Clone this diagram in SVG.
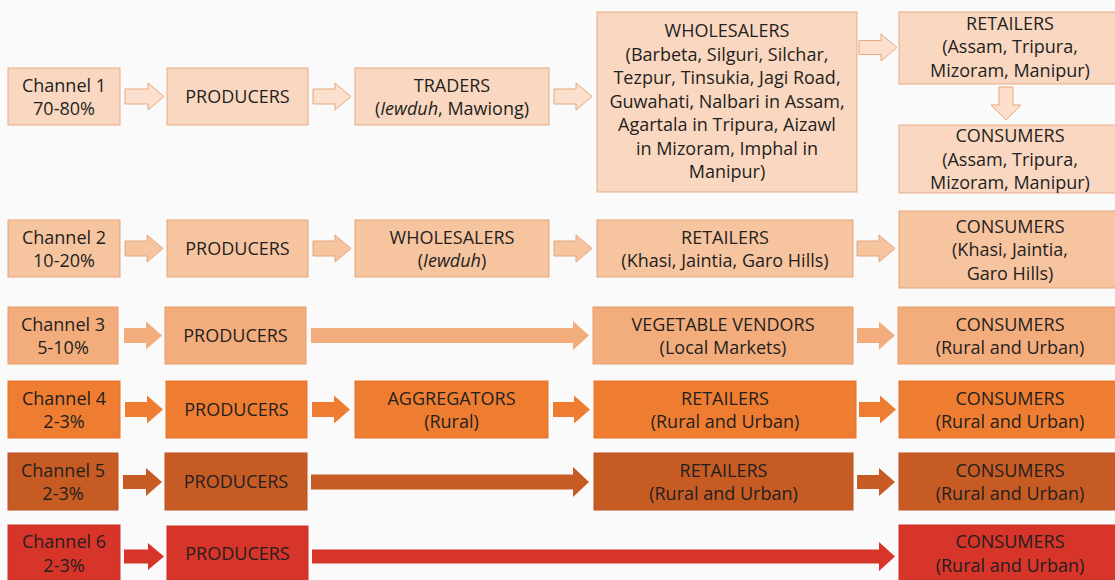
<svg xmlns="http://www.w3.org/2000/svg" width="1115" height="580" viewBox="0 0 1115 580">
<style>
text{font-family:"Open Sans","Liberation Sans",sans-serif;font-size:18px;fill:#231f20;text-anchor:middle}
.it{font-style:italic}
.r1{fill:#fad7c0;stroke:#e6ad86;stroke-width:1}
.r2{fill:#f7c4a0;stroke:#e4a67b;stroke-width:1}
.r3{fill:#f3ad7c;stroke:#e89c68;stroke-width:1}
.r4{fill:#ee7d31;stroke:#e47229;stroke-width:1}
.r5{fill:#c75b24;stroke:#bb5220;stroke-width:1}
.r6{fill:#d8352a;stroke:#cc2e24;stroke-width:1}
.a1{fill:#fcdfcc;stroke:#e6a87c;stroke-width:1}
.a2{fill:#f7c4a0;stroke:#e4a67b;stroke-width:1}
.a3{fill:#f3ad7c}
.a4{fill:#ee7d31}
.a5{fill:#c75b24}
.a6{fill:#d8352a}
</style>
<rect width="1115" height="580" fill="#fafafa"/>
<g id="connectors">
<polygon class="a1" points="125,89 148,89 148,83 164,96.5 148,110 148,104 125,104"/>
<polygon class="a1" points="313,89 335,89 335,83 351,96.5 335,110 335,104 313,104"/>
<polygon class="a1" points="554,89 576,89 576,83 592,96.5 576,110 576,104 554,104"/>
<polygon class="a1" points="859,40.5 881,40.5 881,34 897,47.5 881,61 881,54.5 859,54.5"/>
<polygon class="a1" points="999,87 1013,87 1013,105 1021,105 1006,120 991,105 999,105"/>
<polygon class="a2" points="125,241 147,241 147,235 163,248.5 147,262 147,256 125,256"/>
<polygon class="a2" points="313,241 335,241 335,235 351,248.5 335,262 335,256 313,256"/>
<polygon class="a2" points="554,241 576,241 576,235 592,248.5 576,262 576,256 554,256"/>
<polygon class="a2" points="857,241 879,241 879,235 895,248.5 879,262 879,256 857,256"/>
<polygon class="a3" points="124,328 146,328 146,321.5 162,335.5 146,349.5 146,343 124,343"/>
<polygon class="a3" points="311,328 573,328 573,321 589,335.5 573,350 573,343 311,343"/>
<polygon class="a3" points="857,328 879,328 879,321.5 895,335.5 879,349.5 879,343 857,343"/>
<polygon class="a4" points="125,402 147,402 147,395.5 163,409.5 147,423.5 147,417 125,417"/>
<polygon class="a4" points="312,402 334,402 334,395.5 350,409.5 334,423.5 334,417 312,417"/>
<polygon class="a4" points="553,402 574,402 574,395.5 590,409.5 574,423.5 574,417 553,417"/>
<polygon class="a4" points="859,402 880,402 880,395.5 896,409.5 880,423.5 880,417 859,417"/>
<polygon class="a5" points="123,475 146,475 146,468 162,482 146,496 146,489 123,489"/>
<polygon class="a5" points="311,474.5 573,474.5 573,467 589,482 573,497 573,489.5 311,489.5"/>
<polygon class="a5" points="857,475 879,475 879,468 895,482 879,496 879,489 857,489"/>
<polygon class="a6" points="124,549.5 148,549.5 148,543 164,556.5 148,570 148,563.5 124,563.5"/>
<polygon class="a6" points="312,549.5 879,549.5 879,542 895,556.5 879,571 879,563.5 312,563.5"/>
</g>
<g id="ch1"><rect class="r1" x="8" y="68" width="112" height="57"/><text x="64" y="91.5">Channel 1</text><text x="64" y="115">70-80%</text></g>
<g id="prod1"><rect class="r1" x="167" y="68" width="141" height="57"/><text x="237.5" y="103">PRODUCERS</text></g>
<g id="traders1"><rect class="r1" x="355" y="68" width="194" height="57"/><text x="452" y="91.5">TRADERS</text><text x="452" y="115">(<tspan class="it">Iewduh</tspan>,  Mawiong)</text></g>
<g id="wholesalers1"><rect class="r1" x="597" y="12" width="260" height="180"/>
<text x="727" y="37">WHOLESALERS</text>
<text x="727" y="60.5">(Barbeta, Silguri, Silchar,</text>
<text x="727" y="84">Tezpur, Tinsukia, Jagi Road,</text>
<text x="727" y="107.5">Guwahati, Nalbari in Assam,</text>
<text x="727" y="131">Agartala in Tripura, Aizawl</text>
<text x="727" y="154.5">in Mizoram, Imphal in</text>
<text x="727" y="178">Manipur)</text></g>
<g id="retailers1"><rect class="r1" x="899" y="12" width="224" height="72"/><text x="1010" y="29.5">RETAILERS</text><text x="1010" y="53">(Assam, Tripura,</text><text x="1010" y="76.5">Mizoram, Manipur)</text></g>
<g id="consumers1"><rect class="r1" x="899" y="125" width="224" height="68"/><text x="1010" y="142">CONSUMERS</text><text x="1010" y="165.5">(Assam, Tripura,</text><text x="1010" y="189">Mizoram, Manipur)</text></g>

<g id="ch2"><rect class="r2" x="8" y="220" width="112" height="57"/><text x="64" y="243.5">Channel 2</text><text x="64" y="267">10-20%</text></g>
<g id="prod2"><rect class="r2" x="167" y="220" width="141" height="57"/><text x="237.5" y="255">PRODUCERS</text></g>
<g id="wholesalers2"><rect class="r2" x="355" y="220" width="194" height="57"/><text x="452" y="243.5">WHOLESALERS</text><text x="452" y="267">(<tspan class="it">Iewduh</tspan>)</text></g>
<g id="retailers2"><rect class="r2" x="597" y="220" width="256" height="57"/><text x="725" y="243.5">RETAILERS</text><text x="725" y="267">(Khasi, Jaintia, Garo Hills)</text></g>
<g id="consumers2"><rect class="r2" x="899" y="211" width="224" height="77"/><text x="1010" y="232.5">CONSUMERS</text><text x="1010" y="256">(Khasi, Jaintia,</text><text x="1010" y="279.5">Garo Hills)</text></g>

<g id="ch3"><rect class="r3" x="8" y="307" width="110" height="57"/><text x="63" y="330.5">Channel 3</text><text x="63" y="354">5-10%</text></g>
<g id="prod3"><rect class="r3" x="165" y="307" width="141" height="57"/><text x="235.5" y="342">PRODUCERS</text></g>
<g id="vendors3"><rect class="r3" x="593" y="307" width="260" height="57"/><text x="723" y="330.5">VEGETABLE VENDORS</text><text x="723" y="354">(Local Markets)</text></g>
<g id="consumers3"><rect class="r3" x="898" y="307" width="225" height="57"/><text x="1010" y="330.5">CONSUMERS</text><text x="1010" y="354">(Rural and Urban)</text></g>

<g id="ch4"><rect class="r4" x="8" y="381" width="112" height="57"/><text x="64" y="404.5">Channel 4</text><text x="64" y="428">2-3%</text></g>
<g id="prod4"><rect class="r4" x="166" y="381" width="141" height="57"/><text x="236.5" y="416">PRODUCERS</text></g>
<g id="aggregators4"><rect class="r4" x="355" y="381" width="193" height="57"/><text x="451.5" y="404.5">AGGREGATORS</text><text x="451.5" y="428">(Rural)</text></g>
<g id="retailers4"><rect class="r4" x="594" y="381" width="262" height="57"/><text x="725" y="404.5">RETAILERS</text><text x="725" y="428">(Rural and Urban)</text></g>
<g id="consumers4"><rect class="r4" x="899" y="381" width="224" height="57"/><text x="1010" y="404.5">CONSUMERS</text><text x="1010" y="428">(Rural and Urban)</text></g>

<g id="ch5"><rect class="r5" x="8" y="453" width="110" height="57"/><text x="63" y="476.5">Channel 5</text><text x="63" y="500">2-3%</text></g>
<g id="prod5"><rect class="r5" x="165" y="453" width="142" height="57"/><text x="236" y="488">PRODUCERS</text></g>
<g id="retailers5"><rect class="r5" x="594" y="453" width="259" height="57"/><text x="723.5" y="476.5">RETAILERS</text><text x="723.5" y="500">(Rural and Urban)</text></g>
<g id="consumers5"><rect class="r5" x="899" y="453" width="224" height="57"/><text x="1010" y="476.5">CONSUMERS</text><text x="1010" y="500">(Rural and Urban)</text></g>

<g id="ch6"><rect class="r6" x="8" y="525" width="112" height="60"/><text x="64" y="548">Channel 6</text><text x="64" y="571.5">2-3%</text></g>
<g id="prod6"><rect class="r6" x="167" y="526" width="141" height="60"/><text x="237.5" y="560">PRODUCERS</text></g>
<g id="consumers6"><rect class="r6" x="899" y="525" width="224" height="60"/><text x="1010" y="548">CONSUMERS</text><text x="1010" y="571.5">(Rural and Urban)</text></g>
</svg>
